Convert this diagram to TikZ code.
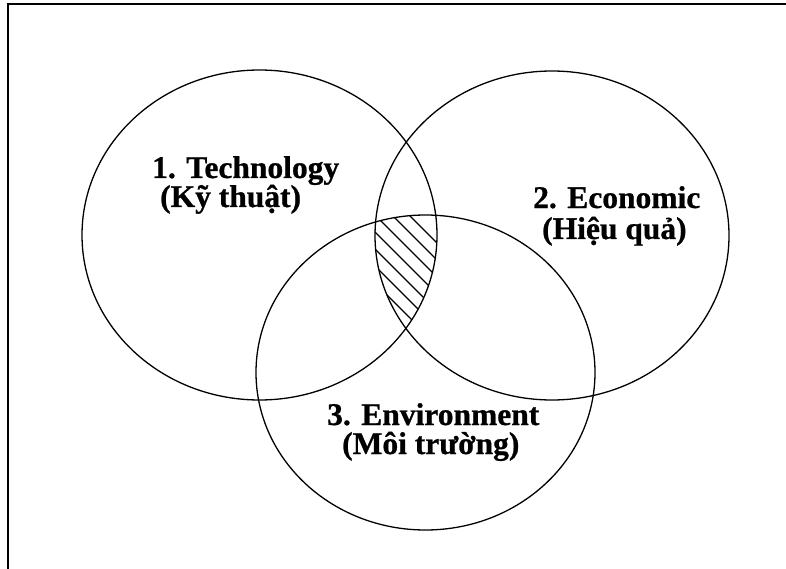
\documentclass[tikz,border=0pt]{standalone}
\usepackage{fontspec}
\setmainfont{Liberation Serif}[BoldFeatures={FakeBold=0.8}]
\begin{document}
\begin{tikzpicture}[x=1pt,y=-1pt,
  lbl/.style={font=\fontsize{31.5}{31.5}\selectfont\bfseries, inner sep=0pt, anchor=base west},
  ring/.style={line width=1.3pt},
  frame/.style={line width=1.8pt},
  hatch/.style={line width=1.2pt}]
\useasboundingbox (0,0) rectangle (786,569);
% frame (top and left only)
\coordinate (fbl) at (8,569);
\coordinate (ftl) at (8,4);
\coordinate (ftr) at (786,4);
\draw[frame] (fbl) -- (ftl) -- (ftr);
% hatching of the triple intersection
\begin{scope}
  \clip (259.5,235) ellipse [x radius=177.5pt, y radius=165pt];
  \clip (552,235.5) ellipse [x radius=177pt, y radius=164.5pt];
  \clip (425.5,372.5) ellipse [x radius=169.5pt, y radius=157.5pt];
  \foreach \c in {92,109,126,143,160,177,194}
    \draw[hatch] (\c+200,200) -- (\c+340,340);
\end{scope}
% three circles
\draw[ring] (259.5,235) ellipse [x radius=177.5pt, y radius=165pt];
\draw[ring] (552,235.5) ellipse [x radius=177pt, y radius=164.5pt];
\draw[ring] (425.5,372.5) ellipse [x radius=169.5pt, y radius=157.5pt];
% labels
\node[lbl] (t1a) at (152,178) {1. Technology};
\node[lbl] (t1b) at (160,207) {(Kỹ thuật)};
\node[lbl] (t2a) at (533,208) {2. Economic};
\node[lbl] (t2b) at (542,239) {(Hiệu quả)};
\node[lbl] (t3a) at (327,425) {3. Environment};
\node[lbl] (t3b) at (342,454) {(Môi trường)};
\end{tikzpicture}
\end{document}
